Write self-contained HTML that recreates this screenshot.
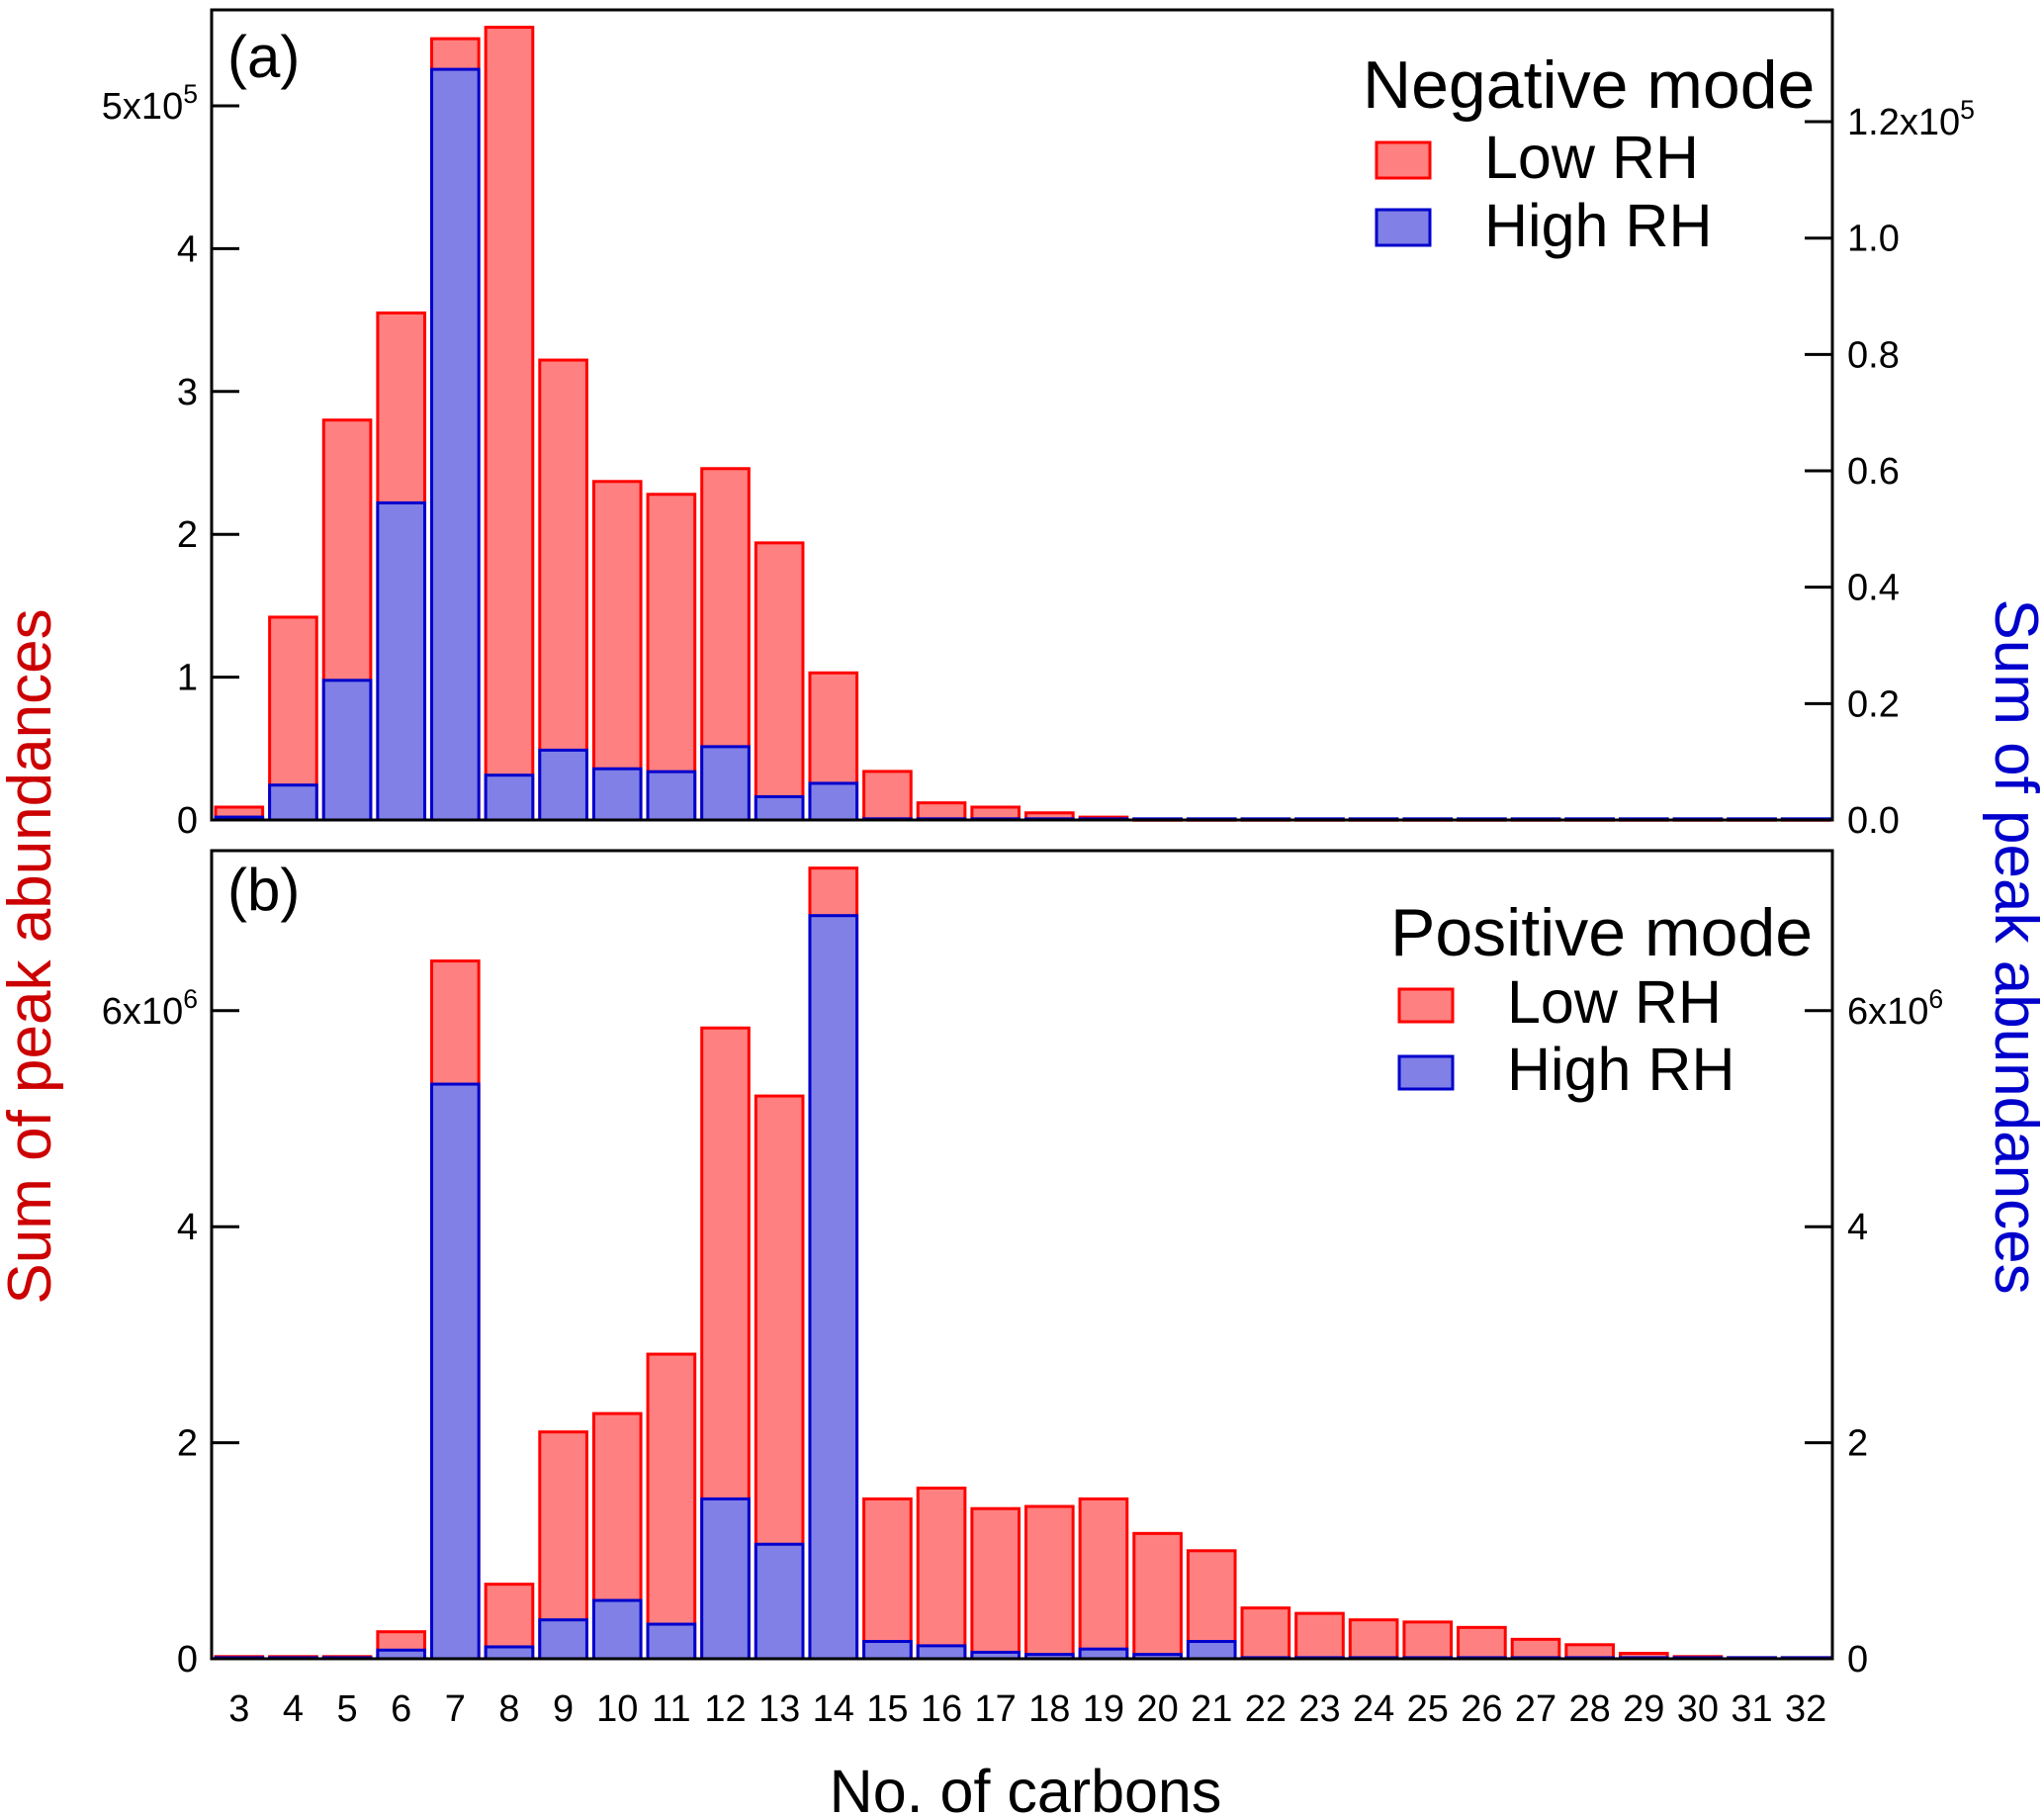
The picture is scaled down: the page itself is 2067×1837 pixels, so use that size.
<!DOCTYPE html>
<html><head><meta charset="utf-8"><style>
html,body{margin:0;padding:0;background:#fff;width:2067px;height:1837px;overflow:hidden}
svg{display:block;font-family:"Liberation Sans",Arial,sans-serif}
</style></head><body>
<svg id="chart" width="2067" height="1837" viewBox="0 0 2067 1837" xmlns="http://www.w3.org/2000/svg"></svg>
<script>
const categories = [3,4,5,6,7,8,9,10,11,12,13,14,15,16,17,18,19,20,21,22,23,24,25,26,27,28,29,30,31,32];
// Panel (a) negative mode, units of 1e5
const negLow  = [0.09,1.42,2.8,3.55,5.47,5.55,3.22,2.37,2.28,2.46,1.94,1.03,0.34,0.12,0.09,0.05,0.02,0.005,0.005,0.005,0.005,0.005,0.005,0.005,0.005,0.005,0.005,0.005,0.005,0.005];
const negHigh = [0.005,0.06,0.24,0.545,1.29,0.077,0.12,0.088,0.083,0.126,0.04,0.063,0.002,0.002,0.002,0.002,0.002,0.002,0.002,0.002,0.002,0.002,0.002,0.002,0.002,0.002,0.002,0.002,0.002,0.002];
// Panel (b) positive mode, units of 1e6
const posLow  = [0.02,0.02,0.02,0.25,6.46,0.69,2.1,2.27,2.82,5.84,5.21,7.32,1.48,1.58,1.39,1.41,1.48,1.16,1.0,0.47,0.42,0.36,0.34,0.29,0.18,0.13,0.05,0.02,0.01,0.01];
const posHigh = [0.01,0.01,0.01,0.08,5.32,0.11,0.36,0.54,0.32,1.48,1.06,6.88,0.16,0.12,0.06,0.04,0.09,0.04,0.16,0.01,0.01,0.01,0.01,0.01,0.01,0.01,0.01,0.01,0.01,0.01];
const aLeftTicks = [0,1,2,3,4,5];
const aLeftLabels = ["0","1","2","3","4","5x10^5"];
const aRightTicks = [0,0.2,0.4,0.6,0.8,1.0,1.2];
const aRightLabels = ["0.0","0.2","0.4","0.6","0.8","1.0","1.2x10^5"];
const bTicks = [0,2,4,6];
const bLabels = ["0","2","4","6x10^6"];

const NS = "http://www.w3.org/2000/svg";
const svg = document.getElementById('chart');
function mk(tag, attrs, parent){ const e=document.createElementNS(NS,tag); for(const k in attrs) e.setAttribute(k,attrs[k]); (parent||svg).appendChild(e); return e; }

const XL=214, XR=1853;
const pitch=(XR-XL)/categories.length;
function xPos(i){ return XL + pitch*i + 4; }
const barW = pitch-7;

const A = {top:10, zero:829, ppuL:144.4, ppuR:588.3};
const B = {top:860, zero:1677, ppu:109.2};
function yAL(v){ return A.zero - v*A.ppuL; }
function yAR(v){ return A.zero - v*A.ppuR; }
function yB(v){ return B.zero - v*B.ppu; }

function label(txt, x, y, anchor, size, parent){
  const t = mk('text',{x:x,y:y,'text-anchor':anchor,'font-size':size,fill:'#000'},parent);
  const parts = txt.split('^');
  t.textContent = parts[0];
  if(parts[1]){ const s=mk('tspan',{dy:-16,'font-size':size*0.7},t); s.textContent=parts[1]; }
  return t;
}

function drawBars(g, vals, yf, fill, stroke, nm){
  vals.forEach((v,i)=>{
    const y=yf(v), z=yf(0);
    const r=mk('rect',{x:xPos(i),y:y,width:barW,height:Math.max(z-y,1),fill:fill,stroke:stroke,'stroke-width':3},g);
    
    
  });
}

const TF = 38;
// Panel A
const gA = mk('g',{});


drawBars(gA, negLow, yAL, '#ff8080', '#ff0000', 'bar-neg-low');
drawBars(gA, negHigh, yAR, '#8080e6', '#0000cc', 'bar-neg-high');
mk('rect',{x:XL,y:A.top,width:XR-XL,height:A.zero-A.top,fill:'none',stroke:'#000','stroke-width':3},gA);
aLeftTicks.forEach((v,i)=>{ const y=yAL(v); mk('line',{x1:XL,x2:XL+28,y1:y,y2:y,stroke:'#000','stroke-width':3},gA);
  const t=label(aLeftLabels[i], 200, y+13, 'end', TF, gA);   });
aRightTicks.forEach((v,i)=>{ const y=yAR(v); mk('line',{x1:XR-28,x2:XR,y1:y,y2:y,stroke:'#000','stroke-width':3},gA);
  const t=label(aRightLabels[i], 1868, y+13, 'start', TF, gA);   });
const ta=mk('text',{x:230,y:78,'font-size':60},gA); ta.textContent='(a)';
 
const lgA=mk('g',{});  
const lt=mk('text',{x:1378,y:109,'font-size':68},lgA); lt.textContent='Negative mode';
mk('rect',{x:1392,y:144,width:54,height:36,fill:'#ff8080',stroke:'#ff0000','stroke-width':3},lgA);
const l1=mk('text',{x:1501,y:180,'font-size':61},lgA); l1.textContent='Low RH';
mk('rect',{x:1392,y:212,width:54,height:36,fill:'#8080e6',stroke:'#0000cc','stroke-width':3},lgA);
const l2=mk('text',{x:1501,y:249,'font-size':61},lgA); l2.textContent='High RH';

// Panel B
const gB = mk('g',{});


drawBars(gB, posLow, yB, '#ff8080', '#ff0000', 'bar-pos-low');
drawBars(gB, posHigh, yB, '#8080e6', '#0000cc', 'bar-pos-high');
mk('rect',{x:XL,y:B.top,width:XR-XL,height:B.zero-B.top,fill:'none',stroke:'#000','stroke-width':3},gB);
bTicks.forEach((v,i)=>{ const y=yB(v);
  mk('line',{x1:XL,x2:XL+28,y1:y,y2:y,stroke:'#000','stroke-width':3},gB);
  mk('line',{x1:XR-28,x2:XR,y1:y,y2:y,stroke:'#000','stroke-width':3},gB);
  const t1=label(bLabels[i], 200, y+13, 'end', TF, gB);  
  const t2=label(bLabels[i], 1868, y+13, 'start', TF, gB);  
});
categories.forEach((c,i)=>{ const t=mk('text',{x:xPos(i)+barW/2,y:1740,'text-anchor':'middle','font-size':TF},gB); t.textContent=c;
    });
const tb=mk('text',{x:230,y:920,'font-size':60},gB); tb.textContent='(b)';
 
const lgB=mk('g',{});  
const lt2=mk('text',{x:1406,y:966,'font-size':68},lgB); lt2.textContent='Positive mode';
mk('rect',{x:1415,y:1000,width:54,height:33,fill:'#ff8080',stroke:'#ff0000','stroke-width':3},lgB);
const m1=mk('text',{x:1524,y:1034,'font-size':61},lgB); m1.textContent='Low RH';
mk('rect',{x:1415,y:1068,width:54,height:33,fill:'#8080e6',stroke:'#0000cc','stroke-width':3},lgB);
const m2=mk('text',{x:1524,y:1102,'font-size':61},lgB); m2.textContent='High RH';

// Axis titles
const yl=mk('text',{x:0,y:0,'text-anchor':'middle','font-size':62,fill:'#cc0000',transform:'translate(51,967) rotate(-90)'});
yl.textContent='Sum of peak abundances';
 
const yr=mk('text',{x:0,y:0,'text-anchor':'middle','font-size':62,fill:'#0000cc',transform:'translate(2018,957) rotate(90)'});
yr.textContent='Sum of peak abundances';
 
const xt=mk('text',{x:1037,y:1832,'text-anchor':'middle','font-size':61});
xt.textContent='No. of carbons';
 
</script>
</body></html>
